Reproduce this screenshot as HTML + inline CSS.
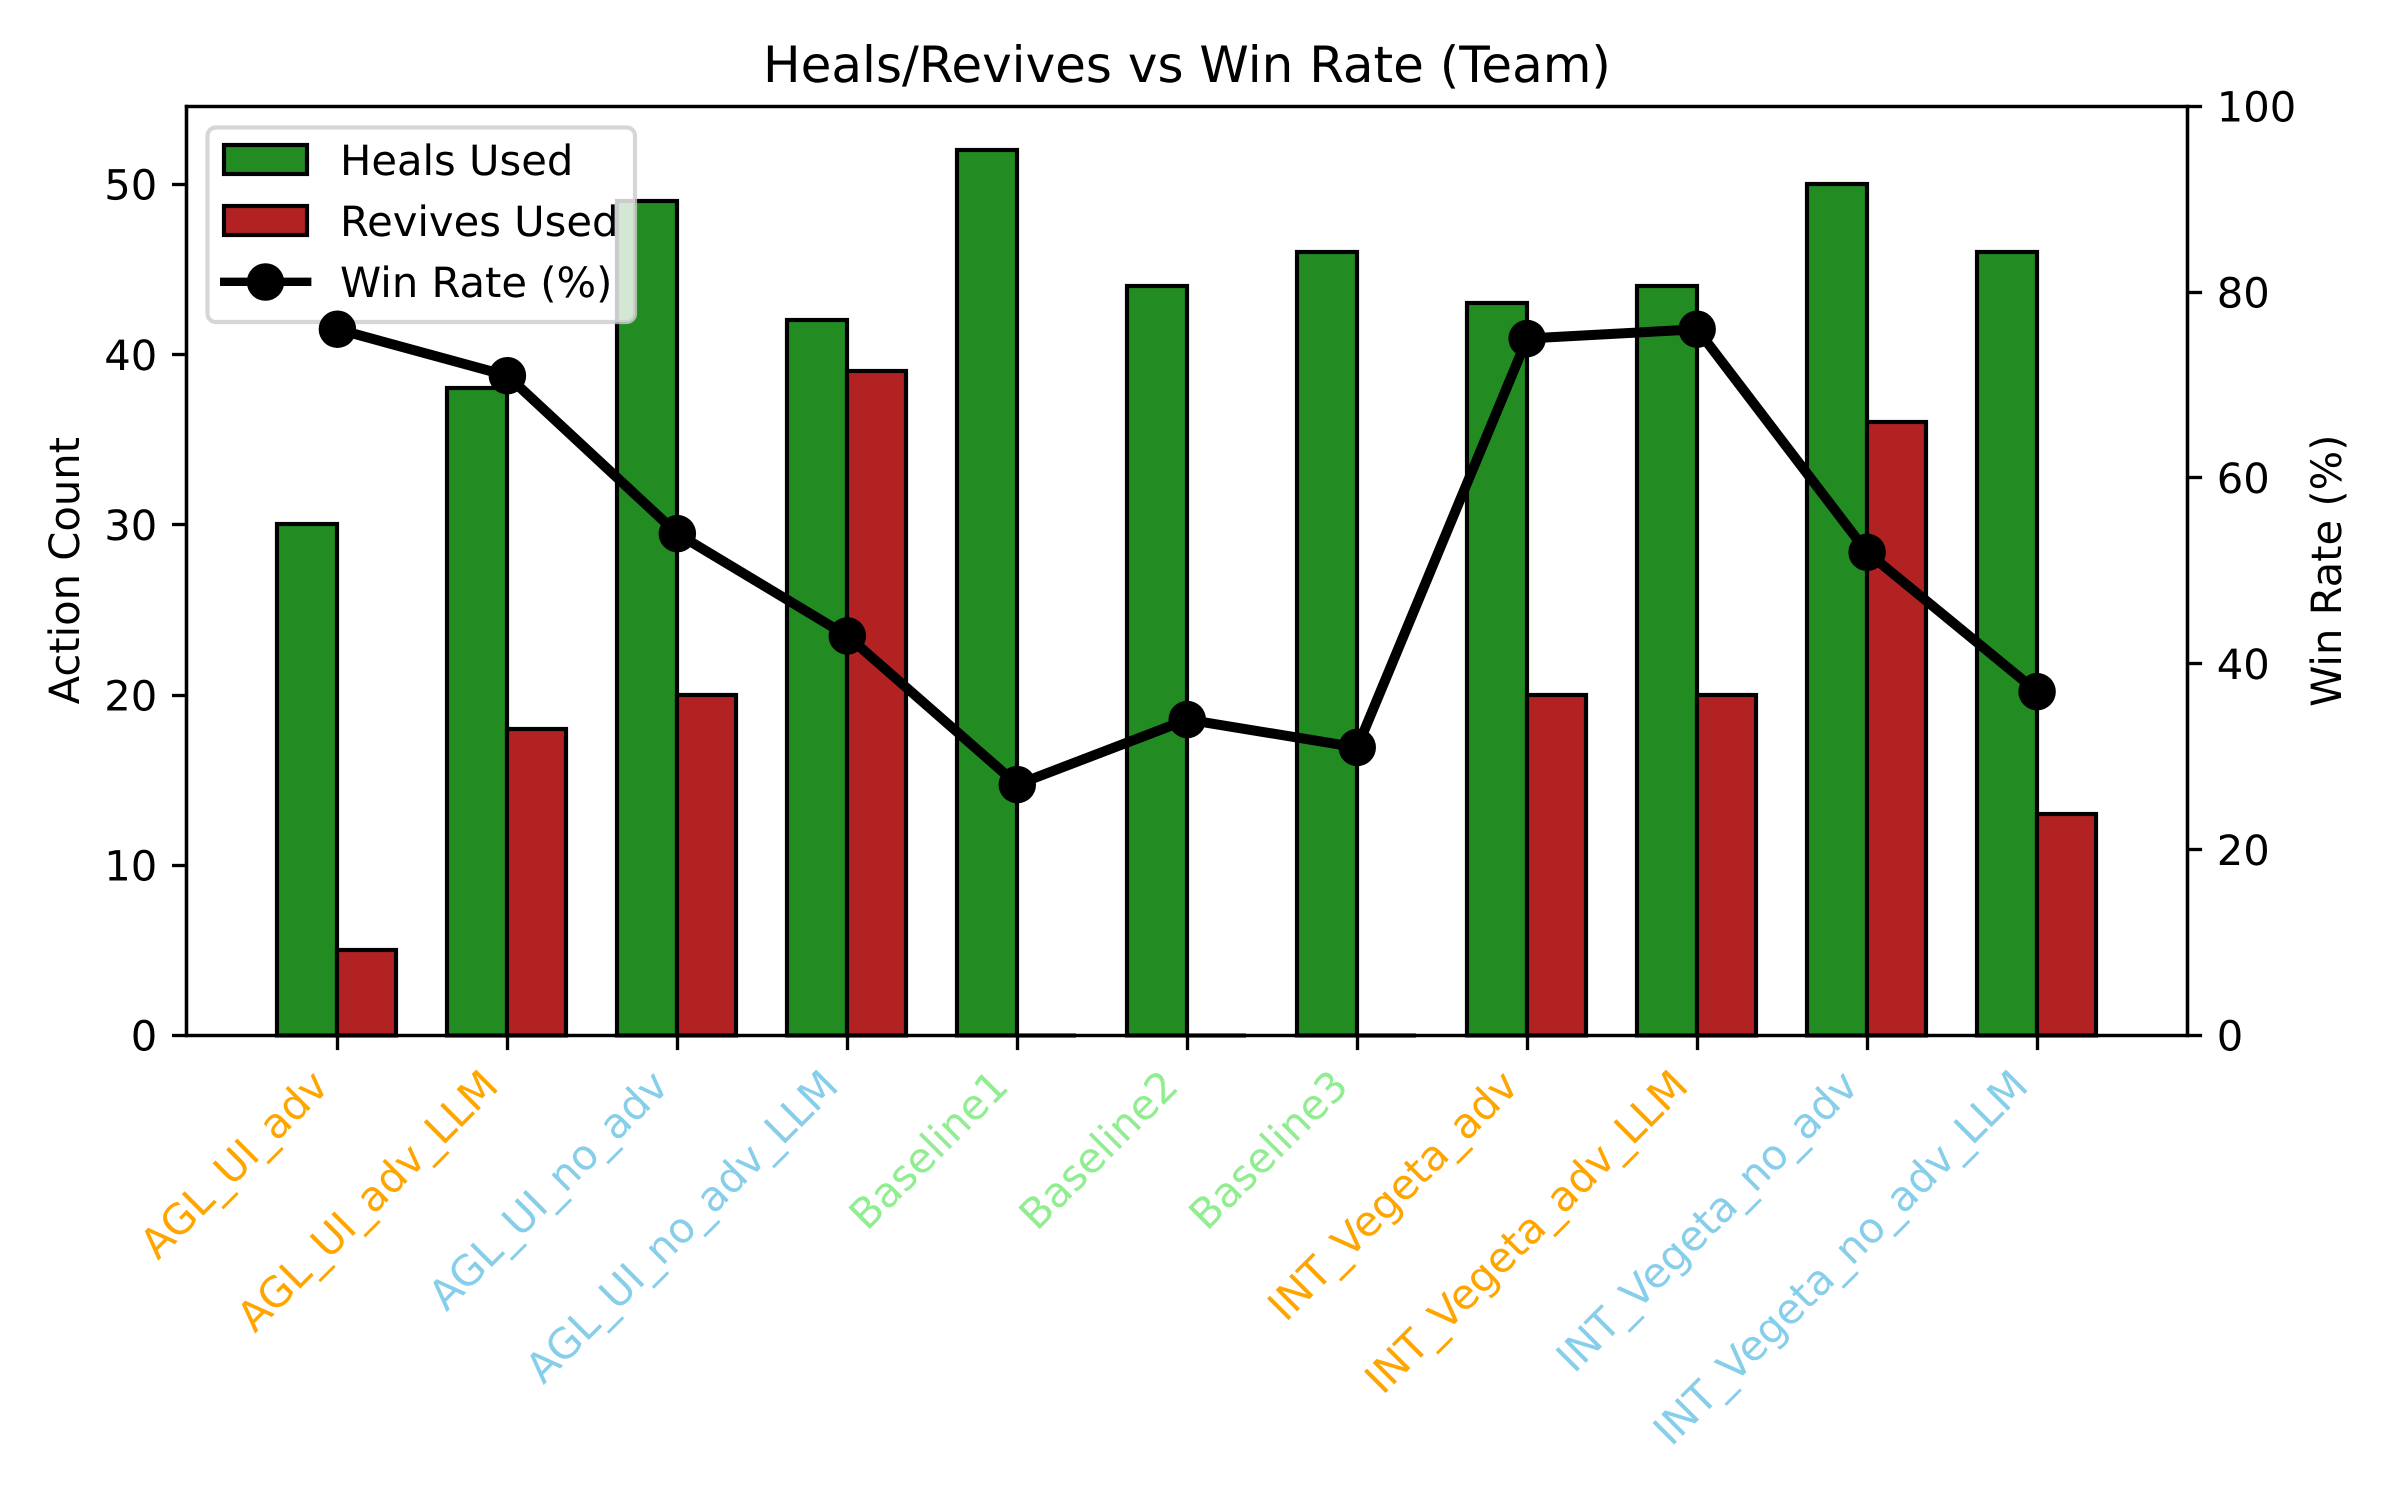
<!DOCTYPE html>
<html>
<head>
<meta charset="utf-8">
<title>Heals/Revives vs Win Rate (Team)</title>
<style>
html,body{margin:0;padding:0;background:#fff;width:2400px;height:1500px;overflow:hidden}
svg{display:block}
text{font-family:"DejaVu Sans",sans-serif;font-size:41.67px;fill:#000;text-rendering:geometricPrecision}
</style>
</head>
<body>
<svg id="chart" xmlns="http://www.w3.org/2000/svg" width="2400" height="1500" viewBox="0 0 2400 1500">
  <rect x="0" y="0" width="2400" height="1500" fill="#fff"/>
  <g id="bars"></g>
  <g id="axes-left"></g>
  <g id="legend">
    <rect x="207.5" y="127.5" width="427.5" height="194.5" rx="8.3" ry="8.3" fill="#fff" fill-opacity="0.8" stroke="#ccc" stroke-opacity="0.8" stroke-width="4.17"/>
    <rect x="224" y="145" width="83" height="29" fill="#228B22" stroke="#000" stroke-width="4.17"/>
    <text x="340" y="175">Heals Used</text>
    <rect x="224" y="206" width="83" height="29" fill="#B22222" stroke="#000" stroke-width="4.17"/>
    <text x="340" y="236">Revives Used</text>
    <line x1="224.2" y1="281.8" x2="307.2" y2="281.8" stroke="#000" stroke-width="8.33" stroke-linecap="square"/>
    <circle cx="265.5" cy="282" r="18.75" fill="#000"/>
    <text x="340" y="297">Win Rate (%)</text>
  </g>
  <g id="line-layer"></g>
  <g id="axes-right"></g>
  <text x="1187" y="82" text-anchor="middle" style="font-size:50px">Heals/Revives vs Win Rate (Team)</text>
  <text transform="translate(79,570.7) rotate(-90)" text-anchor="middle">Action Count</text>
  <text transform="translate(2341,570.7) rotate(-90)" text-anchor="middle">Win Rate (%)</text>
</svg>
<script>
const categories = ['AGL_UI_adv','AGL_UI_adv_LLM','AGL_UI_no_adv','AGL_UI_no_adv_LLM','Baseline1','Baseline2','Baseline3','INT_Vegeta_adv','INT_Vegeta_adv_LLM','INT_Vegeta_no_adv','INT_Vegeta_no_adv_LLM'];
const labelGroups = ['adv','adv','noadv','noadv','base','base','base','adv','adv','noadv','noadv'];
const healsUsed = [30,38,49,42,52,44,46,43,44,50,46];
const revivesUsed = [5,18,20,39,0,0,0,20,20,36,13];
const winRate = [76,71,54,43,27,34,31,75,76,52,37];
const leftTicks = [0,10,20,30,40,50];
const rightTicks = [0,20,40,60,80,100];

const NS = 'http://www.w3.org/2000/svg';
const plot = {left:187, right:2187.5, top:106.2, bottom:1035.5};
const barWidth = 0.35;
const groupColors = {adv:'#FFA500', noadv:'#87CEEB', base:'#90EE90'};
const xMin = -barWidth - 0.05 * (categories.length - 1 + 2 * barWidth);
const xMax = categories.length - 1 + barWidth + 0.05 * (categories.length - 1 + 2 * barWidth);
const leftMax = Math.max(...healsUsed, ...revivesUsed) * 1.05;
const rightMax = 100;

function xScale(v){ return plot.left + (v - xMin) / (xMax - xMin) * (plot.right - plot.left); }
function yLeft(v){ return plot.bottom - v / leftMax * (plot.bottom - plot.top); }
function yRight(v){ return plot.bottom - v / rightMax * (plot.bottom - plot.top); }
function snapEven(v){ return Math.floor(v); }
function snapOdd(v){ return Math.floor(v) + 0.5; }
function make(tag, parent){
  const el = document.createElementNS(NS, tag);
  parent.appendChild(el);
  return el;
}
function setAll(el, attrs){
  for (const k in attrs) el.setAttribute(k, attrs[k]);
}

const barsLayer = document.getElementById('bars');
const axesLeft = document.getElementById('axes-left');
const axesRight = document.getElementById('axes-right');
const lineLayer = document.getElementById('line-layer');

function drawBar(value, start, color, name){
  const el = make('rect', barsLayer);
  
  
  const x1 = snapEven(xScale(start));
  const x2 = snapEven(xScale(start + barWidth));
  const top = snapEven(yLeft(value));
  const base = plot.bottom;
  if (base - top < 1) {
    setAll(el, {x:x1, y:base - 2.08, width:x2 - x1, height:4.17, fill:'#000'});
  } else {
    setAll(el, {x:x1, y:top, width:x2 - x1, height:base - top, fill:color, stroke:'#000', 'stroke-width':4.17});
  }
}
categories.forEach(function(cat, i){
  drawBar(healsUsed[i], i - barWidth, '#228B22', 'bar-heals-' + cat);
  drawBar(revivesUsed[i], i, '#B22222', 'bar-revives-' + cat);
});

function drawSpines(parent, prefix){
  const l = snapOdd(plot.left - 0.5), r = snapOdd(plot.right - 0.5), t = snapOdd(plot.top), b = snapOdd(plot.bottom);
  const pairs = [
    ['left', l, t, l, b],
    ['right', r, t, r, b],
    ['top', l, t, r, t],
    ['bottom', l, b, r, b]
  ];
  pairs.forEach(function(p){
    const el = make('line', parent);
    
    
    setAll(el, {x1:p[1], y1:p[2], x2:p[3], y2:p[4], stroke:'#000', 'stroke-width':3.33, 'stroke-linecap':'square'});
  });
}
drawSpines(axesLeft, 'left-axis');

leftTicks.forEach(function(t){
  const y = yLeft(t);
  const mark = make('line', axesLeft);
  
  
  setAll(mark, {x1:plot.left, y1:snapOdd(y), x2:plot.left - 15, y2:snapOdd(y), stroke:'#000', 'stroke-width':3.33});
  const label = make('text', axesLeft);
  
  
  setAll(label, {x:plot.left - 29.7, y:y + 15.2, 'text-anchor':'end'});
  label.textContent = t;
});

categories.forEach(function(cat, i){
  const x = xScale(i);
  const mark = make('line', axesLeft);
  
  
  setAll(mark, {x1:snapOdd(x), y1:plot.bottom, x2:snapOdd(x), y2:plot.bottom + 14.6, stroke:'#000', 'stroke-width':3.33});
  const label = make('text', axesLeft);
  
  
  const bx = x - 6.8;
  const by = plot.bottom + 29.2 + 23.5;
  setAll(label, {transform:'translate(' + bx + ',' + by + ') rotate(-45)', 'text-anchor':'end'});
  label.style.fill = groupColors[labelGroups[i]];
  label.textContent = cat;
});

const winLine = make('polyline', lineLayer);


setAll(winLine, {points:winRate.map(function(v, i){ return xScale(i) + ',' + yRight(v); }).join(' '), fill:'none', stroke:'#000', 'stroke-width':10, 'stroke-linejoin':'round', 'stroke-linecap':'square'});
winRate.forEach(function(v, i){
  const dot = make('circle', lineLayer);
  
  
  setAll(dot, {cx:xScale(i), cy:yRight(v), r:18.75, fill:'#000'});
});

drawSpines(axesRight, 'right-axis');
rightTicks.forEach(function(t){
  const y = yRight(t);
  const mark = make('line', axesRight);
  
  
  setAll(mark, {x1:plot.right, y1:snapOdd(y), x2:plot.right + 14.6, y2:snapOdd(y), stroke:'#000', 'stroke-width':3.33});
  const label = make('text', axesRight);
  
  
  setAll(label, {x:plot.right + 29.2, y:y + 15.2});
  label.textContent = t;
});
</script>
</body>
</html>
